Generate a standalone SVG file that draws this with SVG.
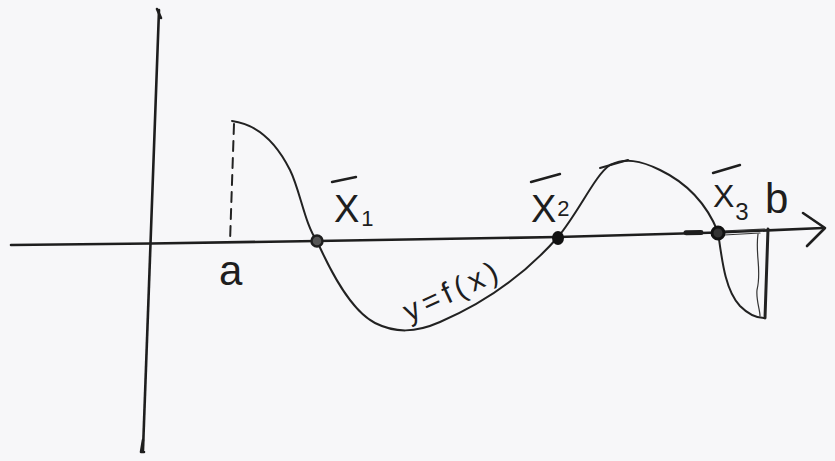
<svg xmlns="http://www.w3.org/2000/svg" width="835" height="461" viewBox="0 0 835 461">
<style>
.ax{fill:none;stroke:#1e1e1e;stroke-width:2.6;stroke-linecap:round;stroke-linejoin:round}
.cv{fill:none;stroke:#222;stroke-width:2;stroke-linecap:round;stroke-linejoin:round}
.thin{fill:none;stroke:#333;stroke-width:1.2;stroke-linecap:round}
.lbl{font-family:"Liberation Sans","DejaVu Sans",sans-serif;fill:#1e1e1e}
.bar{stroke:#1e1e1e;stroke-width:2.4;stroke-linecap:round}
</style>
<rect width="835" height="461" fill="#f7f7f9"/>
<g id="axes">
<path class="ax" d="M159,10 L143,450"/>
<path class="ax" d="M157,9 L161,18"/>
<path class="ax" d="M143,440 L141,452 L144,452"/>
<path class="ax" d="M11,245 L151,243.5 L317,241 L558,237 L718,232.5 L823,228"/>
<path class="ax" d="M803,213 L825,228 L807,246"/>
<path class="ax" style="stroke-width:5" d="M686,232.8 L701,232.5"/>
</g>
<g id="curve">
<path class="cv" d="M232,121 C255,124 275,140 290,170 C300,190 305,225 317,241 C330,270 350,310 375,323 C395,333 415,333 440,322 C480,305 520,280 558,237 C580,210 595,175 610,165 C625,158 640,160 660,170 C685,182 705,200 718,232 C722,260 725,290 740,306 C748,314 756,318 764,318"/>
<path class="cv" d="M600,168 L628,160"/>
<path class="cv" style="stroke-dasharray:10 7" d="M234,124 L230,242"/>
<path class="cv" style="stroke-width:3" d="M768,229 L765,318"/>
<path class="thin" d="M758,234 C755,255 762,270 757,290 C756,300 760,310 760,316"/>
<path class="thin" d="M722,231 L765,229 M724,235 L760,233"/>
</g>
<g id="x1">
<circle cx="317" cy="241" r="5.5" fill="#555" stroke="#1e1e1e" stroke-width="2.5"/>
<line class="bar" x1="332" y1="182" x2="356" y2="177"/>
<text class="lbl" x="334" y="222" font-size="38">X<tspan font-size="22" dx="2" dy="4">1</tspan></text>
</g>
<g id="x2">
<ellipse cx="558" cy="238" rx="6" ry="7" fill="#111"/>
<line class="bar" x1="531" y1="182" x2="560" y2="174"/>
<text class="lbl" x="531" y="222" font-size="38">X<tspan font-size="22" dx="1" dy="-6">2</tspan></text>
</g>
<g id="x3">
<circle cx="718" cy="233" r="6" fill="#333" stroke="#111" stroke-width="3"/>
<line class="bar" x1="713" y1="173" x2="740" y2="165"/>
<text class="lbl" x="713" y="207" font-size="32">X<tspan font-size="24" dx="1" dy="13">3</tspan></text>
</g>
<g id="labels">
<text class="lbl" x="219" y="285" font-size="42">a</text>
<text class="lbl" x="765" y="213" font-size="42">b</text>
<text class="lbl" font-size="30" letter-spacing="5" transform="translate(409,322) rotate(-25)">y=f(x)</text>
</g>
</svg>
